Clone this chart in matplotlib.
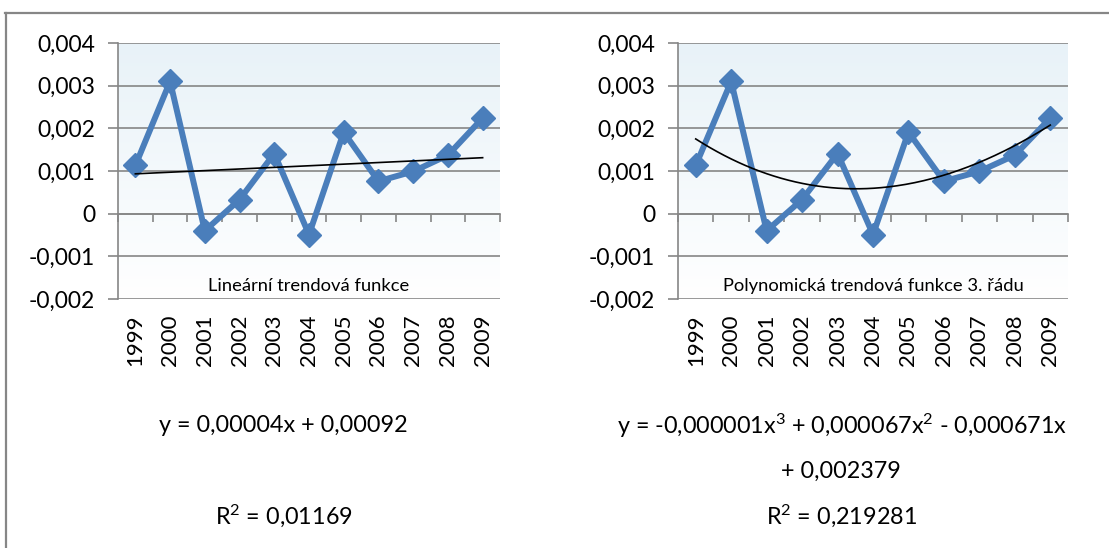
import numpy as np
import matplotlib
matplotlib.use("Agg")
import matplotlib.pyplot as plt
from matplotlib.colors import LinearSegmentedColormap
from matplotlib.lines import Line2D

plt.rcParams['font.family'] = ['Lato', 'DejaVu Sans']
plt.rcParams['mathtext.default'] = 'regular'

# ---- data ----
years = ['1999', '2000', '2001', '2002', '2003', '2004',
         '2005', '2006', '2007', '2008', '2009']
values = [0.00113, 0.00310, -0.00040, 0.00033, 0.00141, -0.00049,
          0.00191, 0.00076, 0.00099, 0.00137, 0.00224]
yticks = [-0.002, -0.001, 0.0, 0.001, 0.002, 0.003, 0.004]
titles = ['Lineární trendová funkce', 'Polynomická trendová funkce 3. řádu']
degrees = [1, 3]
eq_lines = [
    ['y = 0,00004x + 0,00092'],
    ['y = -0,000001x$^{3}$ + 0,000067x$^{2}$ - 0,000671x', '+ 0,002379'],
]
r2_labels = ['R$^{2}$ = 0,01169', 'R$^{2}$ = 0,219281']

# ---- styling ----
W, H = 1109, 548
GRID = '#868686'
BLUE = '#4a7ebb'
fig = plt.figure(figsize=(W / 100, H / 100), dpi=100)

def fx(px):
    return px / W

def fy(py):
    return 1 - py / H

# outer chart frame (left and top edges)
fig.add_artist(Line2D([fx(5.5), fx(5.5)], [fy(13), fy(548)], color=GRID, lw=1.6))
fig.add_artist(Line2D([fx(5), fx(1109)], [fy(13), fy(13)], color=GRID, lw=1.6))

axes_px = [(118, 500), (678, 1068)]
top_px, bot_px = 43, 299
eq_cx = [[283], [842, 841]]
r2_cx = [284, 841]
eq_y = [426, 471]
r2_y = 516

cmap = LinearSegmentedColormap.from_list('bg', ['#ffffff', '#e8f2f8'])

x = np.arange(1, len(years) + 1)
vals = np.array(values)

for i, (l, r) in enumerate(axes_px):
    ax = fig.add_axes([fx(l), fy(bot_px), fx(r - l), (bot_px - top_px) / H])
    ax.set_xlim(0.5, len(years) + 0.5)
    ax.set_ylim(yticks[0], yticks[-1])
    # gradient background
    grad = np.linspace(0, 1, 256).reshape(-1, 1)
    ax.imshow(grad, cmap=cmap, origin='lower', extent=[0, 1, 0, 1],
              transform=ax.transAxes, aspect='auto', zorder=0)
    ax.patch.set_alpha(0)
    ax.set_axisbelow(True)

    ax.set_yticks(yticks)
    ax.set_yticklabels([('0' if v == 0 else f'{v:.3f}'.replace('.', ',')) for v in yticks])
    ax.yaxis.grid(True, color=GRID, lw=1.2)
    ax.tick_params(axis='y', length=7.5, width=1.2, color=GRID, labelsize=16.5, pad=9)

    for s in ['top', 'right']:
        ax.spines[s].set_visible(False)
    ax.spines['left'].set_color(GRID)
    ax.spines['left'].set_linewidth(1.2)
    ax.spines['bottom'].set_position(('data', 0))
    ax.spines['bottom'].set_color(GRID)
    ax.spines['bottom'].set_linewidth(1.2)

    ax.set_xticks(np.arange(0.5, len(years) + 1, 1.0))
    ax.set_xticklabels([])
    ax.tick_params(axis='x', direction='out', length=6, width=1.2, color=GRID)

    sec = ax.secondary_xaxis(0.0)
    sec.set_xticks(x)
    sec.set_xticklabels(years, rotation=90, fontsize=16)
    sec.tick_params(length=0, pad=11)
    sec.spines['bottom'].set_visible(False)

    ax.plot(x, vals, color=BLUE, lw=4.3, marker='D', ms=12,
            markeredgecolor=BLUE, zorder=3, clip_on=False)

    coef = np.polyfit(x, vals, degrees[i])
    xs = np.linspace(1, len(years), 200)
    ax.plot(xs, np.polyval(coef, xs), color='black', lw=1.2, zorder=4)

    ax.text(0.5, 0.05, titles[i], transform=ax.transAxes, ha='center',
            va='center', fontsize=13.2)

    for j, line in enumerate(eq_lines[i]):
        fig.text(fx(eq_cx[i][j]), fy(eq_y[j]), line, ha='center', va='center', fontsize=16.8)
    fig.text(fx(r2_cx[i]), fy(r2_y), r2_labels[i], ha='center', va='center', fontsize=16.8)

fig.savefig('out.png', dpi=100)
